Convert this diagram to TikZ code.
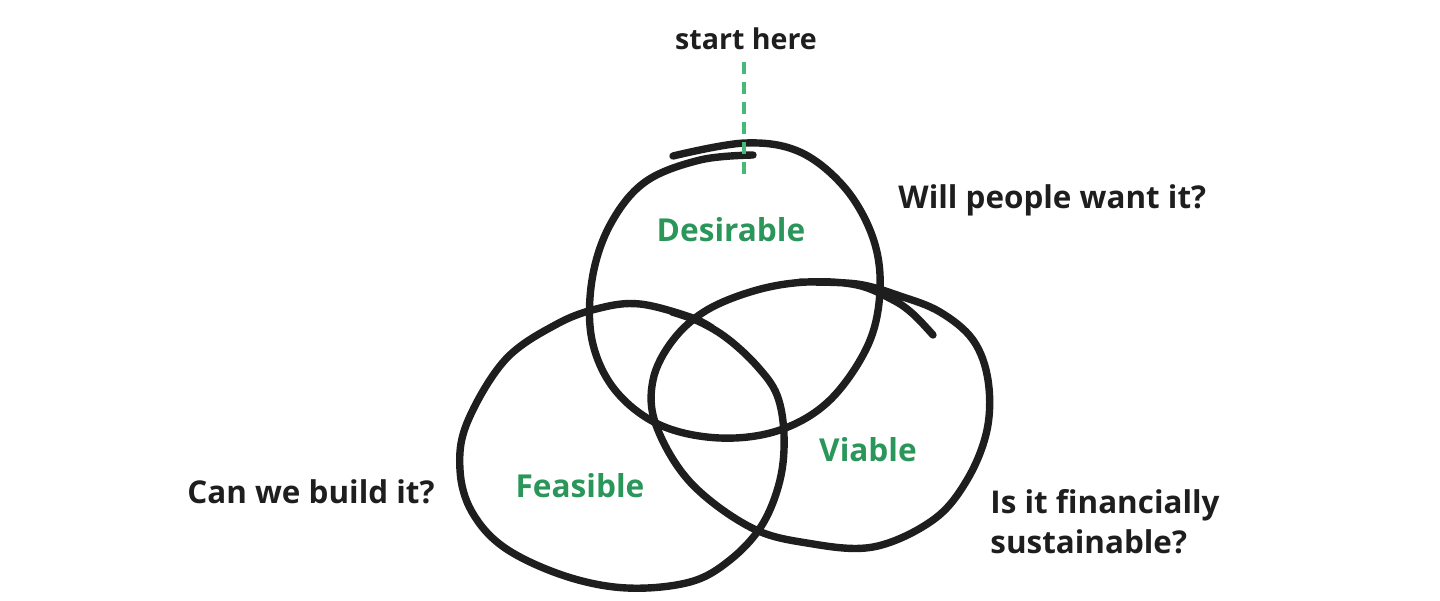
\documentclass[tikz,border=0pt]{standalone}
\usepackage{fontspec}
\setmainfont{Open Sans}[BoldFont={* Bold}]
\definecolor{ink}{HTML}{1E1E1E}
\definecolor{lbl}{HTML}{2A965A}
\definecolor{dash}{HTML}{45B97A}
\begin{document}
\begin{tikzpicture}[x=0.5pt,y=-0.5pt,
  pen/.style={draw=ink,line width=3.7pt,line cap=round,line join=round},
  ask/.style={text=ink,font=\fontsize{15.7}{20}\selectfont\bfseries,inner sep=0pt},
  setname/.style={text=lbl,font=\fontsize{15.8}{19}\selectfont\bfseries,inner sep=0pt},
  guide/.style={draw=dash,line width=1.6pt,dash pattern=on 6pt off 4pt}]
\useasboundingbox (0,0) rectangle (1440,600);
% Desirable
\draw[pen] plot[smooth,tension=0.6] coordinates {(673,156) (745,143) (800,152) (845,188) (873,238) (880,290) (868,345) (830,400) (780,430) (720,438) (660,425) (615,390) (592,340) (592,280) (610,225) (645,182) (700,160) (753,155)};
% Feasible
\draw[pen] plot[smooth,tension=0.6] coordinates {(672,312) (700,322) (728,339) (757,366) (777,395) (784,435) (780,480) (762,525) (730,560) (690,582) (627,588) (565,576) (505,548) (472,512) (460,470) (467,423) (505,360) (557,324) (600,308) (640,304) (690,317) (712,328)};
% Viable
\draw[pen] plot[smooth,tension=0.6] coordinates {(800,282) (857,284) (900,296) (940,312) (973,340) (988,380) (987,430) (967,480) (933,520) (873,547) (807,543) (750,527) (690,482) (656,425) (653,380) (673,340) (707,310) (757,290) (807,282) (857,285) (893,300) (913,314) (933,335)};
% start here
\node[ask,font=\fontsize{14.3}{18}\selectfont\bfseries] (start) at (746,39) {start here};
\coordinate (gtop) at (744,62);
\coordinate (gbot) at (744,176);
\draw[guide] (gtop) -- (gbot);
% set labels
\node[setname] (des) at (731,230) {Desirable};
\node[setname] (via) at (868,450) {Viable};
\node[setname] (fea) at (580,486) {Feasible};
% questions
\node[ask,anchor=west] (q1) at (898,200) {Will people want it?};
\node[ask,anchor=east] (q2) at (435,492) {Can we build it?};
\node[ask,anchor=north west,align=left,font=\fontsize{15.7}{20}\selectfont\bfseries] (q3) at (990,489) {Is it financially\\sustainable?};
\end{tikzpicture}
\end{document}
